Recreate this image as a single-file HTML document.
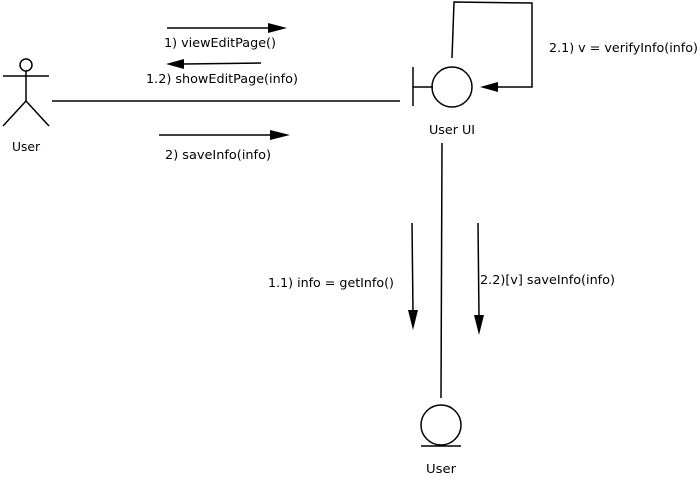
<!DOCTYPE html>
<html><head><style>body{margin:0;background:#fff}svg{display:block}text{font-family:"DejaVu Sans",sans-serif;font-size:12px;fill:#000}</style></head>
<body>
<svg width="699" height="482" viewBox="0 0 699 482" xmlns="http://www.w3.org/2000/svg">
<g stroke="#000" stroke-width="1.5" fill="none">
<circle cx="26" cy="65" r="6"/>
<line x1="26" y1="71" x2="26" y2="101"/>
<line x1="3" y1="76" x2="49" y2="76"/>
<line x1="26" y1="101" x2="3" y2="126"/>
<line x1="26" y1="101" x2="49" y2="126"/>
<line x1="52" y1="101" x2="400" y2="101"/>
<line x1="413" y1="67" x2="413" y2="106"/>
<line x1="413" y1="87" x2="433" y2="87"/>
<circle cx="452" cy="87" r="20"/>
<polyline points="452,58 454,2 532,3 532,87 496,87"/>
<line x1="442" y1="143" x2="441" y2="398"/>
<circle cx="441" cy="425" r="20"/>
<line x1="421" y1="446" x2="461" y2="446"/>
<line x1="167" y1="28" x2="268" y2="28"/>
<line x1="261" y1="63" x2="184" y2="64"/>
<line x1="159" y1="135" x2="270" y2="135"/>
<line x1="412" y1="223" x2="413" y2="312"/>
<line x1="478" y1="223" x2="479" y2="317"/>
</g>
<g fill="#000">
<polygon points="268,23 287,28 268,33"/>
<polygon points="184,59 166,64 184,69"/>
<polygon points="270,130 290,135 270,140"/>
<polygon points="498,82 480,87 498,92"/>
<polygon points="408,310 413,330 418,310"/>
<polygon points="474,315 479,335 484,315"/>
</g>
<text x="164" y="47" textLength="112" lengthAdjust="spacingAndGlyphs">1) viewEditPage()</text>
<text x="146" y="83" textLength="152" lengthAdjust="spacingAndGlyphs">1.2) showEditPage(info)</text>
<text x="165" y="159" textLength="106" lengthAdjust="spacingAndGlyphs">2) saveInfo(info)</text>
<text x="12" y="151" textLength="28" lengthAdjust="spacingAndGlyphs">User</text>
<text x="429" y="134" textLength="46" lengthAdjust="spacingAndGlyphs">User UI</text>
<text x="549" y="52" textLength="149" lengthAdjust="spacingAndGlyphs">2.1) v = verifyInfo(info)</text>
<text x="268" y="287" textLength="126" lengthAdjust="spacingAndGlyphs">1.1) info = getInfo()</text>
<text x="480" y="284" textLength="135" lengthAdjust="spacingAndGlyphs">2.2)[v] saveInfo(info)</text>
<text x="426" y="473" textLength="30" lengthAdjust="spacingAndGlyphs">User</text>
</svg>
</body></html>
